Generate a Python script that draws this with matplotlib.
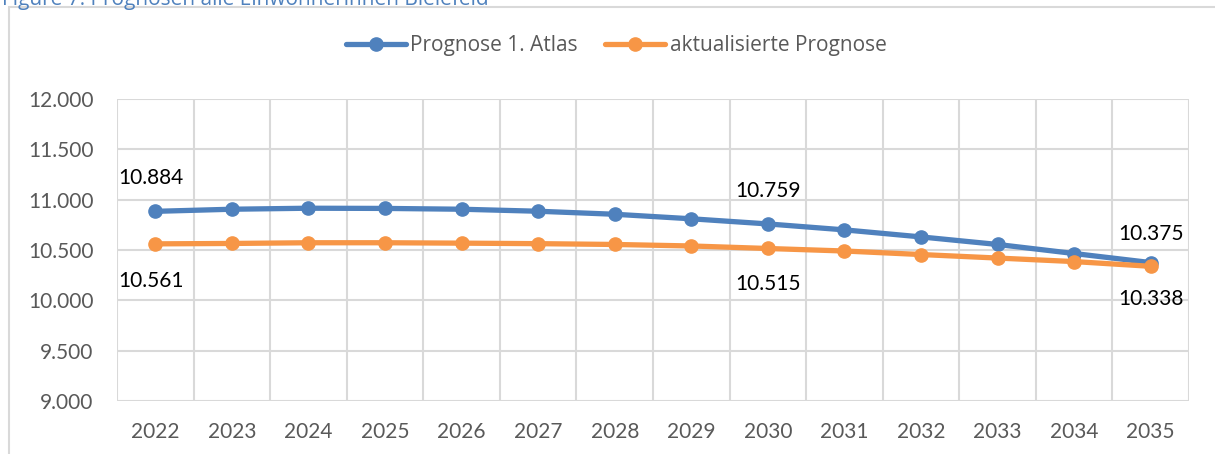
import matplotlib
matplotlib.use("Agg")
import matplotlib.pyplot as plt
from matplotlib.patches import Rectangle
from matplotlib.ticker import FuncFormatter, MultipleLocator

# ================================
# Daten
# ================================
jahre = ["2022", "2023", "2024", "2025", "2026", "2027", "2028",
         "2029", "2030", "2031", "2032", "2033", "2034", "2035"]
prognose_atlas = [10884, 10905, 10915, 10913, 10905, 10885, 10855,
                  10810, 10759, 10700, 10630, 10555, 10465, 10375]
prognose_aktuell = [10561, 10565, 10572, 10572, 10568, 10563, 10555,
                    10540, 10515, 10490, 10455, 10420, 10385, 10338]
serien_namen = ["Prognose 1. Atlas", "aktualisierte Prognose"]
beschriftete_jahre = [0, 8, 13]

BLAU = "#4F81BD"
ORANGE = "#F79646"
GRAU = "#D9D9D9"

plt.rcParams["font.family"] = ["Lato", "DejaVu Sans"]

W, H = 1215, 454
fig = plt.figure(figsize=(W / 100, H / 100), dpi=100)

# Rahmen und Beschriftung der Abbildung
fig.patches.append(Rectangle((9 / W, -0.1), 1.2, 1 - 7 / H + 0.1,
                             transform=fig.transFigure, fill=False,
                             edgecolor=GRAU, linewidth=1.5))
fig.text(2 / W, 1 - 4.5 / H, "Figure 7: Prognosen alle Einwohnerinnen Bielefeld",
         color="#4F81BD", fontsize=15, va="baseline", ha="left",
         family=["Open Sans", "DejaVu Sans"])

ax = fig.add_axes([117 / W, 1 - 401 / H, (1189 - 117) / W, (401 - 99) / H])

x = range(len(jahre))
ax.plot(x, prognose_atlas, color=BLAU, lw=3.8, marker="o", ms=9.5,
        label=serien_namen[0], solid_capstyle="round", zorder=3)
ax.plot(x, prognose_aktuell, color=ORANGE, lw=3.8, marker="o", ms=9.5,
        label=serien_namen[1], solid_capstyle="round", zorder=3)

# ================================
# Achsen
# ================================
ax.set_xlim(-0.5, len(jahre) - 0.5)
ax.set_ylim(9000, 12000)
ax.yaxis.set_major_locator(MultipleLocator(500))
ax.yaxis.set_major_formatter(FuncFormatter(lambda v, p: f"{v:,.0f}".replace(",", ".")))
ax.set_xticks(list(x))
ax.set_xticklabels(jahre)
ax.set_xticks([i - 0.5 for i in range(len(jahre) + 1)], minor=True)

ax.tick_params(axis="both", which="both", length=0, labelsize=15, labelcolor="#595959")
ax.tick_params(axis="y", pad=17)
ax.tick_params(axis="x", pad=15)

ax.grid(axis="y", which="major", color=GRAU, lw=1.5)
ax.grid(axis="x", which="minor", color=GRAU, lw=1.5)
ax.set_axisbelow(True)
for s in ax.spines.values():
    s.set_visible(False)

# ================================
# Datenbeschriftungen
# ================================
versatz = {0: ((-4, 33), (-4, -37)), 8: ((0, 33), (0, -36)), 13: ((0, 29), (0, -33))}
for i in beschriftete_jahre:
    for werte, off in zip([prognose_atlas, prognose_aktuell], versatz[i]):
        ax.annotate(f"{werte[i]:,}".replace(",", "."), (i, werte[i]),
                    xytext=off, textcoords="offset pixels",
                    ha="center", va="center", fontsize=15, color="black")

# ================================
# Legende
# ================================
leg = fig.legend(loc="center", bbox_to_anchor=(616 / W, 1 - 46 / H), ncol=2,
                 frameon=False, handlelength=2.9, columnspacing=1.3,
                 handletextpad=0.2, prop={"family": ["Open Sans", "DejaVu Sans"], "size": 15})
for t in leg.get_texts():
    t.set_color("#595959")

fig.savefig("out.png", dpi=100)
